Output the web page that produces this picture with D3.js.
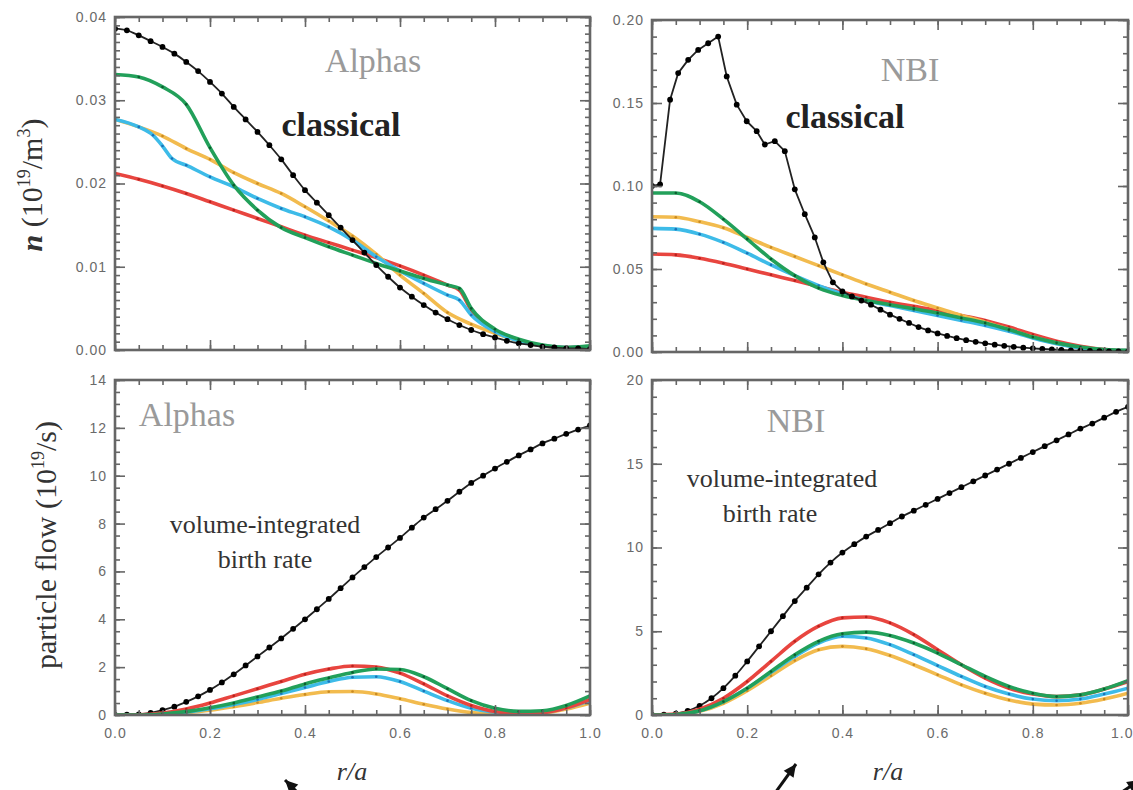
<!DOCTYPE html>
<html>
<head>
<meta charset="utf-8">
<script src="https://cdn.jsdelivr.net/npm/d3@7"></script>
<style>
body { margin: 0; background: #fff; }
svg { display: block; }
</style>
</head>
<body>
<svg id="fig" width="1133" height="790"></svg>
<script>
// Radial grid (r/a) used by the coloured profiles
var rGrid = [0, 0.05, 0.1, 0.15, 0.2, 0.25, 0.3, 0.35, 0.4, 0.45, 0.5,
             0.55, 0.6, 0.65, 0.7, 0.75, 0.8, 0.85, 0.9, 0.95, 1.0];
// Finer grid for the black "classical" / birth-rate curves
var rFine = [0, 0.025, 0.05, 0.075, 0.1, 0.125, 0.15, 0.175, 0.2, 0.225, 0.25,
             0.275, 0.3, 0.325, 0.35, 0.375, 0.4, 0.425, 0.45, 0.475, 0.5,
             0.525, 0.55, 0.575, 0.6, 0.625, 0.65, 0.675, 0.7, 0.725, 0.75,
             0.775, 0.8, 0.825, 0.85, 0.875, 0.9, 0.925, 0.95, 0.975, 1.0];
// TL grid: the drop near r/a = 0.74 needs an extra point
var rGridTL = [0, 0.05, 0.1, 0.15, 0.2, 0.25, 0.3, 0.35, 0.4, 0.45, 0.5,
               0.55, 0.6, 0.65, 0.7, 0.725, 0.75, 0.8, 0.85, 0.9, 0.95, 1.0];
var rCyanTL = [0, 0.05, 0.08, 0.1, 0.12, 0.15, 0.2, 0.25, 0.3, 0.35, 0.4, 0.45, 0.5,
               0.55, 0.6, 0.65, 0.7, 0.725, 0.75, 0.8, 0.85, 0.9, 0.95, 1.0];

// ---- Alphas density (10^19/m^3) ----
var alphaClassical = [0.0386, 0.0384, 0.0378, 0.0371, 0.0364, 0.0356, 0.0346, 0.0335, 0.0322, 0.0308, 0.0292,
                      0.0277, 0.0262, 0.0246, 0.0229, 0.0210, 0.0192, 0.0177, 0.0162, 0.0147, 0.0132,
                      0.0117, 0.0102, 0.0088, 0.0075, 0.0064, 0.0054, 0.0045, 0.0037, 0.0030, 0.0024,
                      0.0019, 0.0015, 0.0011, 0.0008, 0.0006, 0.0004, 0.0003, 0.0002, 0.0002, 0.0001];
var alphaGreen  = [0.0331, 0.0328, 0.0316, 0.0295, 0.0243, 0.0198, 0.0168, 0.0147, 0.0135, 0.0124, 0.0114,
                   0.0104, 0.0095, 0.0086, 0.0078, 0.0074, 0.0050, 0.0025, 0.0013, 0.0006, 0.0003, 0.0005];
var alphaRed    = [0.0212, 0.0205, 0.0197, 0.0188, 0.0178, 0.0168, 0.0158, 0.0148, 0.0138, 0.0129, 0.0120,
                   0.0111, 0.0101, 0.0090, 0.0078, 0.0072, 0.0048, 0.0024, 0.0012, 0.0005, 0.0003, 0.0004];
var alphaOrange = [0.0277, 0.0268, 0.0257, 0.0242, 0.0229, 0.0213, 0.0200, 0.0188, 0.0172, 0.0155, 0.0137,
                   0.0115, 0.0090, 0.0068, 0.0045, 0.0031, 0.0020, 0.0011, 0.0005, 0.0002, 0.0002];
var alphaCyan   = [0.0277, 0.0268, 0.0258, 0.0245, 0.0230, 0.0222, 0.0208, 0.0196, 0.0182, 0.0170, 0.0160, 0.0148, 0.0132,
                   0.0112, 0.0095, 0.0080, 0.0066, 0.0060, 0.0042, 0.0022, 0.0011, 0.0005, 0.0003, 0.0004];

// ---- NBI density (10^19/m^3) ----
var nbiClassicalR = [0, 0.017, 0.038, 0.055, 0.076, 0.097, 0.118, 0.139, 0.157, 0.178, 0.199,
                     0.22, 0.237, 0.258, 0.279, 0.30, 0.321, 0.342, 0.36, 0.38, 0.40,
                     0.42, 0.44, 0.46, 0.48, 0.50, 0.52, 0.54, 0.56, 0.58, 0.60,
                     0.62, 0.64, 0.66, 0.68, 0.70, 0.72, 0.74, 0.76, 0.78, 0.80,
                     0.82, 0.84, 0.86, 0.88, 0.90, 0.92, 0.94, 0.96, 0.98, 1.00];
var nbiClassical  = [0.100, 0.101, 0.152, 0.168, 0.176, 0.182, 0.186, 0.190, 0.166, 0.149, 0.139,
                     0.133, 0.125, 0.127, 0.121, 0.098, 0.083, 0.069, 0.054, 0.042, 0.0365,
                     0.0335, 0.0310, 0.0285, 0.0255, 0.0225, 0.0200, 0.0175, 0.0150, 0.0130, 0.0112,
                     0.0097, 0.0083, 0.0071, 0.0061, 0.0052, 0.0044, 0.0037, 0.0031, 0.0026, 0.0022,
                     0.0018, 0.0015, 0.0012, 0.0010, 0.0008, 0.0006, 0.0005, 0.0004, 0.0003, 0.0002];
var nbiGreen  = [0.0958, 0.0958, 0.0905, 0.0800, 0.0680, 0.0560, 0.0460, 0.0385, 0.0340, 0.0310, 0.0285,
                 0.0260, 0.0235, 0.0205, 0.0175, 0.0135, 0.0090, 0.0055, 0.0030, 0.0015, 0.0010];
var nbiOrange = [0.0815, 0.0812, 0.0785, 0.0748, 0.0690, 0.0630, 0.0575, 0.0520, 0.0465, 0.0410, 0.0360,
                 0.0310, 0.0265, 0.0220, 0.0180, 0.0135, 0.0090, 0.0052, 0.0025, 0.0010, 0.0005];
var nbiCyan   = [0.0745, 0.0740, 0.0710, 0.0660, 0.0595, 0.0525, 0.0460, 0.0400, 0.0350, 0.0310, 0.0280,
                 0.0250, 0.0220, 0.0190, 0.0160, 0.0125, 0.0085, 0.0050, 0.0025, 0.0012, 0.0008];
var nbiRed    = [0.0590, 0.0585, 0.0565, 0.0535, 0.0500, 0.0465, 0.0430, 0.0395, 0.0360, 0.0330, 0.0300,
                 0.0275, 0.0250, 0.0220, 0.0190, 0.0150, 0.0105, 0.0065, 0.0035, 0.0015, 0.0008];

// ---- Alphas particle flow (10^19/s) ----
var alphaBirth  = [0.00, 0.01, 0.03, 0.09, 0.20, 0.35, 0.55, 0.78, 1.05, 1.36, 1.70,
                   2.07, 2.45, 2.82, 3.20, 3.60, 4.00, 4.42, 4.85, 5.30, 5.75,
                   6.18, 6.60, 7.00, 7.40, 7.83, 8.25, 8.60, 8.95, 9.33, 9.70,
                   10.00, 10.30, 10.58, 10.85, 11.10, 11.35, 11.55, 11.75, 11.93, 12.10];
var alphaFlowRed    = [0, 0.01, 0.08, 0.25, 0.50, 0.80, 1.10, 1.40, 1.70, 1.92, 2.05,
                       2.00, 1.75, 1.30, 0.80, 0.40, 0.15, 0.08, 0.10, 0.30, 0.65];
var alphaFlowGreen  = [0, 0.00, 0.04, 0.14, 0.30, 0.50, 0.75, 1.00, 1.30, 1.55, 1.78,
                       1.92, 1.90, 1.60, 1.10, 0.60, 0.28, 0.15, 0.18, 0.40, 0.80];
var alphaFlowCyan   = [0, 0.00, 0.04, 0.12, 0.26, 0.44, 0.65, 0.90, 1.15, 1.40, 1.58,
                       1.60, 1.40, 1.00, 0.60, 0.28, 0.12, 0.08, 0.12, 0.30, 0.60];
var alphaFlowOrange = [0, 0.00, 0.03, 0.10, 0.20, 0.35, 0.52, 0.70, 0.86, 0.97, 0.98,
                       0.88, 0.68, 0.45, 0.25, 0.10, 0.04, 0.03, 0.08, 0.25, 0.50];

// ---- NBI particle flow (10^19/s) ----
var nbiBirth  = [0.00, 0.02, 0.08, 0.25, 0.55, 1.00, 1.60, 2.35, 3.20, 4.10, 5.00,
                 5.90, 6.80, 7.60, 8.40, 9.10, 9.70, 10.20, 10.65, 11.05, 11.45,
                 11.85, 12.20, 12.55, 12.90, 13.25, 13.60, 13.95, 14.30, 14.65, 15.00,
                 15.35, 15.70, 16.05, 16.40, 16.75, 17.10, 17.40, 17.75, 18.10, 18.40];
var nbiFlowRed    = [0, 0.05, 0.35, 1.00, 2.00, 3.20, 4.40, 5.30, 5.80, 5.85, 5.50,
                     4.80, 3.90, 3.00, 2.20, 1.60, 1.25, 1.10, 1.20, 1.55, 2.00];
var nbiFlowGreen  = [0, 0.03, 0.25, 0.80, 1.60, 2.60, 3.60, 4.40, 4.85, 4.95, 4.75,
                     4.30, 3.70, 3.00, 2.30, 1.70, 1.30, 1.10, 1.20, 1.55, 2.05];
var nbiFlowCyan   = [0, 0.03, 0.25, 0.80, 1.60, 2.55, 3.50, 4.30, 4.70, 4.60, 4.20,
                     3.60, 2.95, 2.30, 1.70, 1.25, 0.95, 0.85, 0.95, 1.25, 1.60];
var nbiFlowOrange = [0, 0.03, 0.22, 0.70, 1.45, 2.35, 3.25, 3.90, 4.10, 3.95, 3.55,
                     3.00, 2.40, 1.80, 1.30, 0.90, 0.65, 0.60, 0.70, 0.95, 1.30];

var xTickLabels = ['0.0', '0.2', '0.4', '0.6', '0.8', '1.0'];

// colours: [line, marker]
var RED = ['#e8453f', '#b8221e'], ORANGE = ['#f2bb4e', '#c98a22'],
    CYAN = ['#3dbbe8', '#1b72b8'], GREEN = ['#22a05a', '#0c5e30'], BLACK = ['#222', '#000'];

var svg = d3.select('#fig');
var TICKFONT = '"Liberation Sans", Arial, sans-serif';
var SERIF = '"Liberation Serif", "Times New Roman", serif';

function ser(xs, ys, col, kind) { return { data: d3.zip(xs, ys), col: col, kind: kind }; }

var panels = [
	{ id: 'tl', x0: 115, x1: 590, y0: 17, y1: 350, ymax: 0.04, major: 0.01, minor: 0.001, fmt: d3.format('.2f'), xlab: false,
	  series: [ser(rGridTL, alphaRed, RED), ser(rGrid, alphaOrange, ORANGE), ser(rCyanTL, alphaCyan, CYAN),
	           ser(rGridTL, alphaGreen, GREEN), ser(rFine, alphaClassical, BLACK, 'black')] },
	{ id: 'tr', x0: 652, x1: 1128, y0: 20, y1: 352, ymax: 0.20, major: 0.05, minor: 0.01, fmt: d3.format('.2f'), xlab: false,
	  series: [ser(rGrid, nbiRed, RED), ser(rGrid, nbiOrange, ORANGE), ser(rGrid, nbiCyan, CYAN),
	           ser(rGrid, nbiGreen, GREEN), ser(nbiClassicalR, nbiClassical, BLACK, 'jagged')] },
	{ id: 'bl', x0: 115, x1: 590, y0: 380, y1: 715, ymax: 14, major: 2, minor: 0.5, fmt: d3.format('d'), xlab: true,
	  series: [ser(rFine, alphaBirth, BLACK, 'black'), ser(rGrid, alphaFlowOrange, ORANGE), ser(rGrid, alphaFlowCyan, CYAN),
	           ser(rGrid, alphaFlowRed, RED), ser(rGrid, alphaFlowGreen, GREEN)] },
	{ id: 'br', x0: 652, x1: 1128, y0: 380, y1: 715, ymax: 20, major: 5, minor: 1, fmt: d3.format('d'), xlab: true,
	  series: [ser(rFine, nbiBirth, BLACK, 'black'), ser(rGrid, nbiFlowOrange, ORANGE), ser(rGrid, nbiFlowCyan, CYAN),
	           ser(rGrid, nbiFlowRed, RED), ser(rGrid, nbiFlowGreen, GREEN)] }
];

function styleAxis(sel) {
	sel.select('.domain').remove();
	sel.selectAll('.tick line').attr('stroke', '#666').attr('stroke-width', 1.6);
	sel.selectAll('.tick text').attr('fill', '#6a6a6a').style('font-family', TICKFONT)
		.style('font-size', '14px').style('letter-spacing', '1px');
}

function drawPanel(p) {
	var x = d3.scaleLinear().domain([0, 1]).range([p.x0, p.x1]);
	var y = d3.scaleLinear().domain([0, p.ymax]).range([p.y1, p.y0]);
	var g = svg.append('g').attr('class', 'panel-' + p.id);

	svg.append('clipPath').attr('id', 'clip-' + p.id)
		.append('rect').attr('x', p.x0).attr('y', p.y0 - 3)
		.attr('width', p.x1 - p.x0).attr('height', p.y1 - p.y0 + 3);
	var plot = g.append('g').attr('clip-path', 'url(#clip-' + p.id + ')');

	p.series.forEach(function(s) {
		var isBlack = s.kind === 'black' || s.kind === 'jagged';
		var line = d3.line()
			.x(function(d) { return x(d[0]); })
			.y(function(d) { return y(d[1]); })
			.curve(s.kind === 'jagged' ? d3.curveLinear : d3.curveMonotoneX);
		plot.append('path').datum(s.data)
			.attr('d', line)
			.attr('fill', 'none')
			.attr('stroke', s.col[0])
			.attr('stroke-width', isBlack ? 1.8 : 3.6)
			.attr('stroke-linejoin', 'round');
		plot.selectAll(null).data(s.data).enter().append('circle')
			.attr('cx', function(d) { return x(d[0]); })
			.attr('cy', function(d) { return y(d[1]); })
			.attr('r', isBlack ? 2.9 : 1.3)
			.attr('fill', s.col[1]);
	});

	var xMinor = d3.range(0, 1.0001, 0.05), xMajor = d3.range(0, 1.0001, 0.2);
	var yMinor = d3.range(0, p.ymax * 1.0001, p.minor), yMajor = d3.range(0, p.ymax * 1.0001, p.major);

	// minor ticks (inward)
	g.append('g').attr('transform', 'translate(' + p.x0 + ',0)')
		.call(d3.axisLeft(y).tickValues(yMinor).tickSize(-5).tickFormat('')).call(styleAxis);
	g.append('g').attr('transform', 'translate(' + p.x1 + ',0)')
		.call(d3.axisRight(y).tickValues(yMinor).tickSize(-5).tickFormat('')).call(styleAxis);
	g.append('g').attr('transform', 'translate(0,' + p.y1 + ')')
		.call(d3.axisBottom(x).tickValues(xMinor).tickSize(-5).tickFormat('')).call(styleAxis);
	g.append('g').attr('transform', 'translate(0,' + p.y0 + ')')
		.call(d3.axisTop(x).tickValues(xMinor).tickSize(-5).tickFormat('')).call(styleAxis);

	// major ticks with labels
	g.append('g').attr('transform', 'translate(' + p.x0 + ',0)')
		.call(d3.axisLeft(y).tickValues(yMajor).tickSize(-10).tickPadding(8).tickFormat(p.fmt)).call(styleAxis);
	g.append('g').attr('transform', 'translate(' + p.x1 + ',0)')
		.call(d3.axisRight(y).tickValues(yMajor).tickSize(-10).tickFormat('')).call(styleAxis);
	var xb = g.append('g').attr('transform', 'translate(0,' + p.y1 + ')')
		.call(d3.axisBottom(x).tickValues(xMajor).tickSize(-10).tickPadding(13)
			.tickFormat(function(d, i) { return p.xlab ? xTickLabels[i] : ''; })).call(styleAxis);
	// last label of the right-hand panel sits at the page edge
	if (p.id === 'br') xb.selectAll('.tick text').filter(function(d) { return d > 0.99; }).attr('text-anchor', 'end').attr('dx', 5);
	g.append('g').attr('transform', 'translate(0,' + p.y0 + ')')
		.call(d3.axisTop(x).tickValues(xMajor).tickSize(-10).tickFormat('')).call(styleAxis);

	g.append('rect').attr('x', p.x0).attr('y', p.y0)
		.attr('width', p.x1 - p.x0).attr('height', p.y1 - p.y0)
		.attr('fill', 'none').attr('stroke', '#666').attr('stroke-width', 2.6);
}

panels.forEach(drawPanel);

// ---- annotations ----
function label(txt, cx, cy, size, color, anchor) {
	return svg.append('text').attr('x', cx).attr('y', cy)
		.attr('text-anchor', anchor || 'middle')
		.style('font-family', SERIF).style('font-size', size + 'px')
		.attr('fill', color).text(txt);
}
label('Alphas', 373, 72, 34, '#9a9a9a');
label('classical', 341, 136, 34, '#222').style('font-weight', 'bold');
label('NBI', 910, 81, 34, '#9a9a9a');
label('classical', 845, 128, 34, '#222').style('font-weight', 'bold');
label('Alphas', 187, 426, 34, '#9a9a9a');
label('volume-integrated', 265, 533, 26, '#333');
label('birth rate', 265, 568, 26, '#333');
label('NBI', 796, 432, 34, '#9a9a9a');
label('volume-integrated', 782, 487, 26, '#333');
label('birth rate', 770, 522, 26, '#333');

// y-axis titles
var t1 = svg.append('text').attr('transform', 'translate(42,185) rotate(-90)')
	.attr('text-anchor', 'middle').style('font-family', SERIF).style('font-size', '30px').attr('fill', '#333');
t1.append('tspan').style('font-style', 'italic').style('font-weight', 'bold').text('n');
t1.append('tspan').text(' (10');
t1.append('tspan').attr('dy', -12).style('font-size', '18px').text('19');
t1.append('tspan').attr('dy', 12).text('/m');
t1.append('tspan').attr('dy', -12).style('font-size', '18px').text('3');
t1.append('tspan').attr('dy', 12).text(')');

var t2 = svg.append('text').attr('transform', 'translate(56,545) rotate(-90)')
	.attr('text-anchor', 'middle').style('font-family', SERIF).style('font-size', '30px').attr('fill', '#333');
t2.append('tspan').text('particle flow (10');
t2.append('tspan').attr('dy', -12).style('font-size', '18px').text('19');
t2.append('tspan').attr('dy', 12).text('/s)');

// x-axis titles
label('r/a', 352, 780, 26, '#333').style('font-style', 'italic');
label('r/a', 888, 780, 26, '#333').style('font-style', 'italic');

// arrows cut off at the bottom edge
function arrow(x1, y1, x2, y2) {
	var ang = Math.atan2(y2 - y1, x2 - x1), hl = 14, hw = 0.45;
	svg.append('line').attr('x1', x1).attr('y1', y1).attr('x2', x2).attr('y2', y2)
		.attr('stroke', '#111').attr('stroke-width', 3);
	svg.append('path').attr('fill', '#111')
		.attr('d', 'M' + x2 + ',' + y2 +
			'L' + (x2 - hl * Math.cos(ang - hw)) + ',' + (y2 - hl * Math.sin(ang - hw)) +
			'L' + (x2 - hl * Math.cos(ang + hw)) + ',' + (y2 - hl * Math.sin(ang + hw)) + 'Z');
}
arrow(305, 800, 285, 780);
arrow(770, 800, 796, 764);
arrow(1110, 800, 1140, 780);
</script>
</body>
</html>
